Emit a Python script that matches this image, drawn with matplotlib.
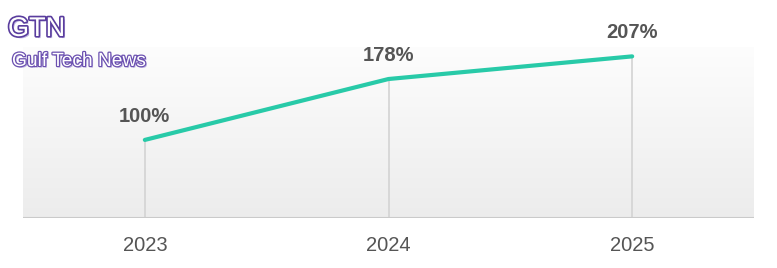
import numpy as np
import matplotlib
matplotlib.use("Agg")
import matplotlib.pyplot as plt
import matplotlib.patheffects as pe

plt.rcParams['font.family'] = ['Liberation Sans', 'DejaVu Sans']

# data
years = ["2023", "2024", "2025"]
values = [100, 178, 207]
labels = ["100%", "178%", "207%"]

fig = plt.figure(figsize=(7.77, 2.68), dpi=100)
ax = fig.add_axes([23/777, 1 - 218/268, (754-23)/777, (218-47)/268])

x = np.arange(len(years))
ax.set_xlim(-0.5, 2.5)
ax.set_ylim(0, 219)

# gradient background
grad = np.linspace(1.0, 0.0, 256).reshape(-1, 1)
ax.imshow(grad, extent=[-0.5, 2.5, 0, 219], aspect="auto", origin="upper",
          cmap=matplotlib.colors.LinearSegmentedColormap.from_list("bg", ["#ececec", "#fdfdfd"]),
          zorder=0)

# drop lines
ax.vlines(x, 0, values, color="#d3d3d3", lw=1.2, zorder=1)
ax.axhline(0, color="#cacaca", lw=1.5, zorder=2)

ax.plot(x, values, color="#28caa8", lw=3, solid_capstyle="round", zorder=3)

for xi, v, lab in zip(x, values, labels):
    ax.annotate(lab, (xi, v), xytext=(0, 13), textcoords="offset points",
                ha="center", va="baseline", fontsize=14.5, fontweight="bold",
                color="#555555")

ax.set_xticks(x)
ax.set_xticklabels(years, fontsize=14.5, color="#555555")
ax.tick_params(axis="x", length=0, pad=13)
ax.set_yticks([])
for s in ax.spines.values():
    s.set_visible(False)

# logo
logo_fx = [pe.withSimplePatchShadow(offset=(1.5, -1.5), shadow_rgbFace="#b9aee0", alpha=0.9),
           pe.Stroke(linewidth=2.4, foreground="#5a3d9e"), pe.Normal()]
fig.text(8/777, 1 - 36/268, "GTN", fontsize=19.5, color="white",
         ha="left", va="baseline", path_effects=logo_fx)
small_fx = [pe.withSimplePatchShadow(offset=(1.2, -1.2), shadow_rgbFace="#b9aee0", alpha=0.9),
            pe.Stroke(linewidth=1.8, foreground="#6b50b0"), pe.Normal()]
fig.text(12/777, 1 - 66/268, "Gulf Tech News", fontsize=13.8, color="white",
         ha="left", va="baseline", path_effects=small_fx)

fig.savefig("out.png", dpi=100)
